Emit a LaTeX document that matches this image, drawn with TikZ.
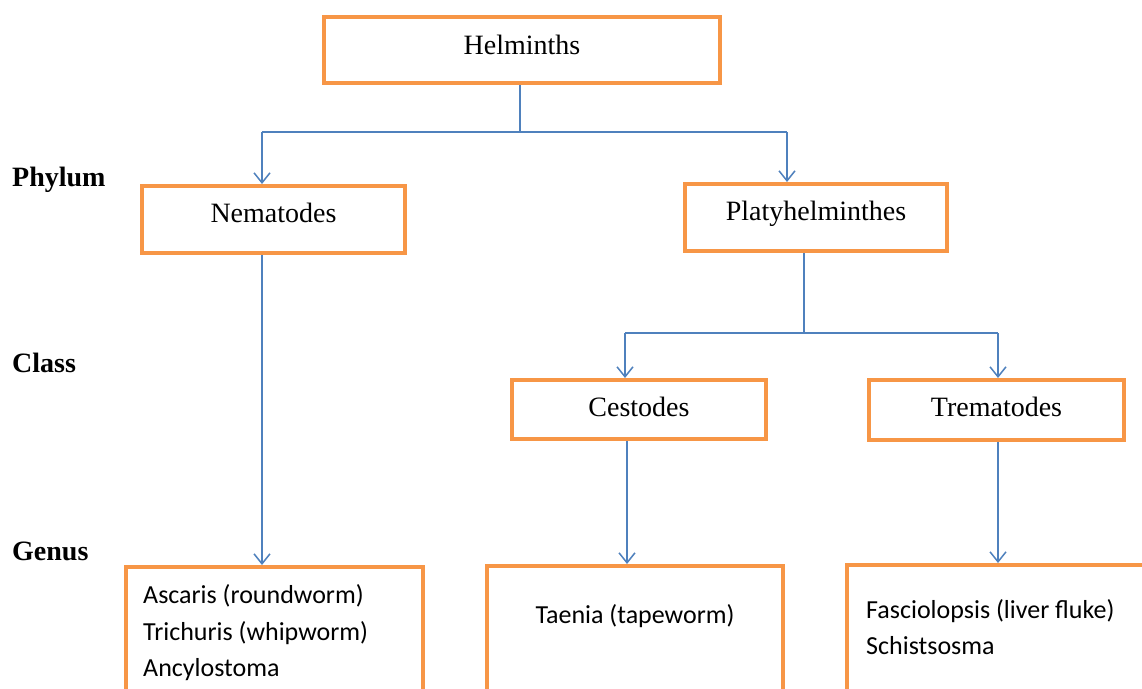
\documentclass[tikz,border=0pt]{standalone}
\usepackage{fontspec}
\setmainfont{Liberation Serif}
\newfontfamily\calibrifont{Carlito}
\usetikzlibrary{arrows.meta,calc}
\definecolor{boxorange}{HTML}{F79646}
\definecolor{lineblue}{HTML}{4F81BD}
\begin{document}
\begin{tikzpicture}[x=1pt,y=-1pt,
  box/.style={draw=boxorange,line width=4pt,inner sep=0pt,fill=white,text height=20pt,font=\fontsize{28}{34}\selectfont},
  gbox/.style={draw=boxorange,line width=4pt,inner sep=0pt,fill=white},
  gtext/.style={inner sep=0pt,font=\calibrifont\fontsize{26}{32}\selectfont},
  rank/.style={inner sep=0pt,font=\bfseries\fontsize{28}{34}\selectfont},
  conn/.style={draw=lineblue,line width=1.5pt},
  arr/.style={conn,-{Straight Barb[length=10pt,width=16pt]}}]
\useasboundingbox (0,0) rectangle (1142,688);
\clip (0,0) rectangle (1142,688);
\fill[white] (0,0) rectangle (1142,688);

% boxes
\node[box,text depth=12pt,minimum width=396pt,minimum height=66pt] (helm) at (522,50) {Helminths};
\node[box,text depth=15pt,minimum width=263pt,minimum height=67pt] (nem) at (273.5,219.5) {Nematodes};
\node[box,text depth=15pt,minimum width=262pt,minimum height=67pt] (platy) at (816,217.5) {Platyhelminthes};
\node[box,text depth=7pt,minimum width=254pt,minimum height=59pt] (cest) at (639,409.5) {Cestodes};
\node[box,text depth=8pt,minimum width=255pt,minimum height=60pt] (trem) at (996.5,410) {Trematodes};
\node[gbox,minimum width=297pt,minimum height=193pt] (ascbox) at (274.5,663.5) {};
\node[gbox,minimum width=296pt,minimum height=194pt] (taebox) at (635,663) {};
\node[gbox,minimum width=331pt,minimum height=195pt] (fasbox) at (1012.5,662.5) {};

% box texts
\node[gtext,anchor=base west] (asc1) at (143,603) {Ascaris (roundworm)};
\node[gtext,anchor=base west] (asc2) at (143,640) {Trichuris (whipworm)};
\node[gtext,anchor=base west] (asc3) at (143,676) {Ancylostoma};
\node[gtext,anchor=base] (tae) at (635,623) {Taenia (tapeworm)};
\node[gtext,anchor=base west] (fas1) at (866,618) {Fasciolopsis (liver fluke)};
\node[gtext,anchor=base west] (fas2) at (866,654) {Schistsosma};

% rank labels
\node[rank,anchor=base west] (phylum) at (12,186) {Phylum};
\node[rank,anchor=base west] (class) at (12,372) {Class};
\node[rank,anchor=base west] (genus) at (12,560) {Genus};

% connectors
\coordinate (j1) at (520,132);
\coordinate (aL) at (262,132);
\coordinate (aR) at (787,132);
\draw[conn] (helm.south -| j1) -- (j1);
\draw[conn] (aL) -- (aR);
\draw[arr] (aL) -- (aL |- nem.north);
\draw[arr] (aR) -- (aR |- platy.north);
\draw[arr] (nem.south -| aL) -- (aL |- ascbox.north);

\coordinate (j2) at (804,333);
\coordinate (bL) at (625,333);
\coordinate (bR) at (998,333);
\coordinate (cx) at (627,0);
\draw[conn] (platy.south -| j2) -- (j2);
\draw[conn] (bL) -- (bR);
\draw[arr] (bL) -- (bL |- cest.north);
\draw[arr] (bR) -- (bR |- trem.north);
\draw[arr] (cest.south -| cx) -- (cx |- taebox.north);
\draw[arr] (trem.south -| bR) -- (bR |- fasbox.north);
\end{tikzpicture}
\end{document}
